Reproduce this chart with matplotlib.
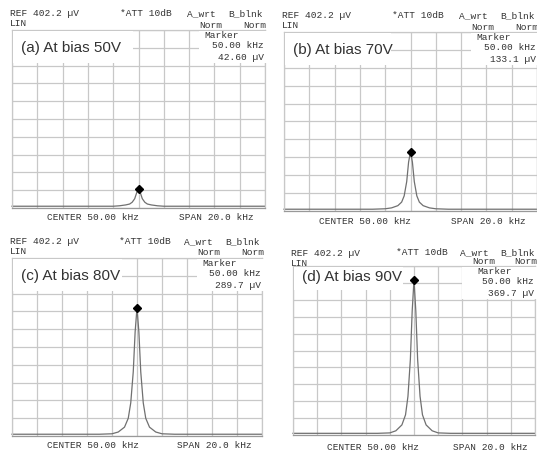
import matplotlib
matplotlib.use('Agg')
import matplotlib.pyplot as plt
from matplotlib.patches import Rectangle

# 频谱仪截图数据 (kHz, µV)
freq = [40.0, 47.0, 48.0, 48.5, 49.0, 49.3, 49.5, 49.7, 49.85, 50.0,
        50.15, 50.3, 50.5, 50.7, 51.0, 51.5, 52.0, 53.0, 60.0]
amp_50v = [4, 4, 4, 5, 7, 9, 13, 21, 34, 42.6, 34, 21, 13, 9, 7, 5, 4, 4, 4]
amp_70v = [4, 4, 5, 7, 12, 20, 34, 66, 110, 133.1, 110, 66, 34, 20, 12, 7, 5, 4, 4]
amp_80v = [4, 4, 5, 9, 20, 40, 75, 145, 235, 289.7, 235, 145, 75, 40, 20, 9, 5, 4, 4]
amp_90v = [4, 4, 5, 10, 24, 48, 92, 180, 295, 369.7, 295, 180, 92, 48, 24, 10, 5, 4, 4]

labels = ['(a) At bias 50V', '(b) At bias 70V', '(c) At bias 80V', '(d) At bias 90V']
marker_text = ['42.60 µV', '133.1 µV', '289.7 µV', '369.7 µV']
amps = [amp_50v, amp_70v, amp_80v, amp_90v]
marker_freq = 50.0
ref_level = 402.2

W, H = 537, 453
# 网格位置 (像素): left, top, right, bottom
grids = [(12, 30, 265, 208), (284, 32, 537, 211), (12, 258, 262, 436), (293, 266, 535, 435)]
label_box_w = [121, 107, 110, 110]

fig = plt.figure(figsize=(W / 100, H / 100), dpi=100)
fig.patch.set_facecolor('white')

mono = dict(family='Liberation Mono', size=6.8, color='#333333', va='center')


def ftext(x, y, s, **kw):
    opts = dict(mono)
    opts.update(kw)
    fig.text(x / W, 1 - y / H, s, zorder=6, **opts)


def fbox(x0, y0, x1, y1):
    fig.patches.append(Rectangle((x0 / W, 1 - y1 / H), (x1 - x0) / W, (y1 - y0) / H,
                                 transform=fig.transFigure, facecolor='white',
                                 edgecolor='none', zorder=5))


for i in range(4):
    l, t, r, b = grids[i]
    gw = r - l
    dy = 3 if i == 3 else 0
    ax = fig.add_axes([l / W, 1 - b / H, gw / W, (b - t) / H])
    ax.set_xlim(40, 60)
    ax.set_ylim(0, ref_level)
    ax.set_xticks([40 + 2 * k for k in range(11)])
    ax.set_yticks([ref_level * k / 10 for k in range(11)])
    ax.grid(True, color='#c8c8c8', lw=0.9)
    ax.tick_params(length=0, labelbottom=False, labelleft=False)
    for sp in ax.spines.values():
        sp.set_color('#c8c8c8')
        sp.set_linewidth(0.9)
    ax.spines['bottom'].set_color('#999999')
    ax.set_facecolor('white')
    ax.plot(freq, amps[i], color='#707070', lw=0.9, clip_on=False)
    ax.plot([marker_freq], [max(amps[i])], marker='D', ms=4, color='black', clip_on=False)

    # 顶部状态文字
    ftext(l - 2, t - 16 + dy, 'REF 402.2 µV')
    ftext(l - 2, t - 6 + dy, 'LIN')
    ftext(l + 0.427 * gw, t - 16 + dy, '*ATT 10dB')
    ftext(l + 0.69 * gw, t - 16 + dy, 'A_wrt')
    ftext(l + 0.855 * gw, t - 16 + dy, 'B_blnk')
    ftext(l + 0.74 * gw, t - 5 + dy / 3, 'Norm')
    ftext(l + 0.915 * gw, t - 5 + dy / 3, 'Norm')

    # 标签框和 Marker 框
    fbox(l + 1, t + 1, l + label_box_w[i], t + 33 if i != 3 else t + 24)
    fig.text((l + 9) / W, 1 - (t + 18 if i != 3 else t + 11) / H, labels[i],
             family='Liberation Sans', size=11, color='#333333', va='center', zorder=6)
    fbox(l + (0.74 if i != 3 else 0.7) * gw, t + 1, r + 3, t + 33)
    ftext(l + 0.76 * gw, t + 5, 'Marker')
    ftext(r - 1, t + 16, '50.00 kHz', ha='right')
    ftext(r - 1, t + 27, marker_text[i], ha='right')

    # 底部文字
    ftext(l + 0.14 * gw, b + 10 + dy, 'CENTER 50.00 kHz')
    ftext(l + 0.66 * gw, b + 10 + dy, 'SPAN 20.0 kHz')

fig.savefig('out.png', dpi=100, facecolor='white')
